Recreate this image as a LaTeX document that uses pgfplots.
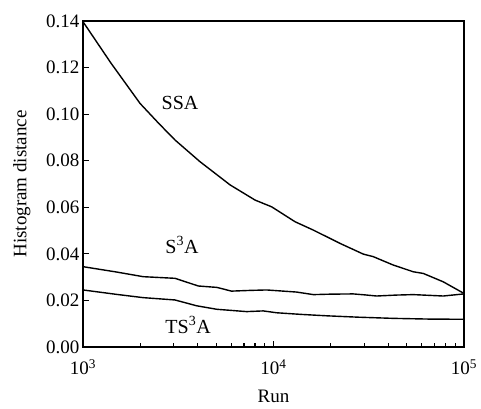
\documentclass[border=0pt]{standalone}
\usepackage{fontspec}
\setmainfont{Liberation Serif}
\usepackage{pgfplots}
\pgfplotsset{compat=1.18}
\usetikzlibrary{calc}

\begin{document}
\begin{tikzpicture}
\begin{axis}[
scale only axis,
width=381pt,
height=326pt,
xmode=log,
xmin=1000, xmax=100000,
ymin=0, ymax=0.14,
xtick={1000,10000,100000},
xticklabels={10\textsuperscript{3},10\textsuperscript{4},10\textsuperscript{5}},
ytick={0,0.02,0.04,0.06,0.08,0.10,0.12,0.14},
yticklabel style={/pgf/number format/.cd,fixed,fixed zerofill,precision=2,assume math mode=true},
xticklabel style={yshift=-9pt},
scaled y ticks=false,
xtick pos=bottom,
ytick pos=left,
tick align=inside,
major tick length=6pt,
minor tick length=4pt,
every tick/.style={black,line width=1.1pt},
axis line style={line width=1.5pt},
tick label style={font=\fontsize{19}{22}\selectfont},
label style={font=\fontsize{19}{22}\selectfont},
xlabel={Run},
ylabel={Histogram distance},
xlabel style={yshift=-8pt},
ylabel style={yshift=9pt},
]
% SSA
\addplot[black,line width=1.4pt,mark=none] coordinates {
(1000,0.1397) (1400,0.1220) (1993,0.1046) (2500,0.0960) (3040,0.0889)
(4110,0.0796) (5920,0.0696) (8000,0.0631) (9780,0.0602) (12970,0.0538)
(16190,0.0502) (22340,0.0445) (29600,0.0399) (33400,0.0388) (42500,0.0352)
(54200,0.0323) (61100,0.0316) (77800,0.0280) (100000,0.0230)};
% S3A
\addplot[black,line width=1.4pt,mark=none] coordinates {
(1000,0.0345) (1500,0.0322) (2070,0.0302) (3040,0.0295) (4030,0.0262)
(5040,0.0256) (6020,0.0240) (7500,0.0243) (9200,0.0245) (13200,0.0236)
(16200,0.0225) (20000,0.0227) (26200,0.0228) (30000,0.0224) (34800,0.0219)
(44000,0.0223) (54200,0.0225) (65000,0.0222) (77800,0.0219) (100000,0.0228)};
% TS3A
\addplot[black,line width=1.4pt,mark=none] coordinates {
(1000,0.0245) (1500,0.0226) (2070,0.0212) (3040,0.0202) (3950,0.0177)
(5040,0.0162) (7230,0.0152) (8830,0.0155) (10400,0.0147) (14000,0.0140)
(19000,0.0134) (28000,0.0128) (42500,0.0123) (65000,0.0120) (100000,0.0119)};
\node[font=\fontsize{20}{24}\selectfont] at (axis cs:3230,0.105) {SSA};
\node[font=\fontsize{20}{24}\selectfont] at (axis cs:3310,0.0438) {S\textsuperscript{3}A};
\node[font=\fontsize{20}{24}\selectfont] at (axis cs:3560,0.0094) {TS\textsuperscript{3}A};
\end{axis}
\pgfresetboundingbox
\path[use as bounding box] ($(current axis.south west)+(-83pt,-61pt)$) rectangle ($(current axis.north east)+(17pt,21pt)$);
\end{tikzpicture}
\end{document}
